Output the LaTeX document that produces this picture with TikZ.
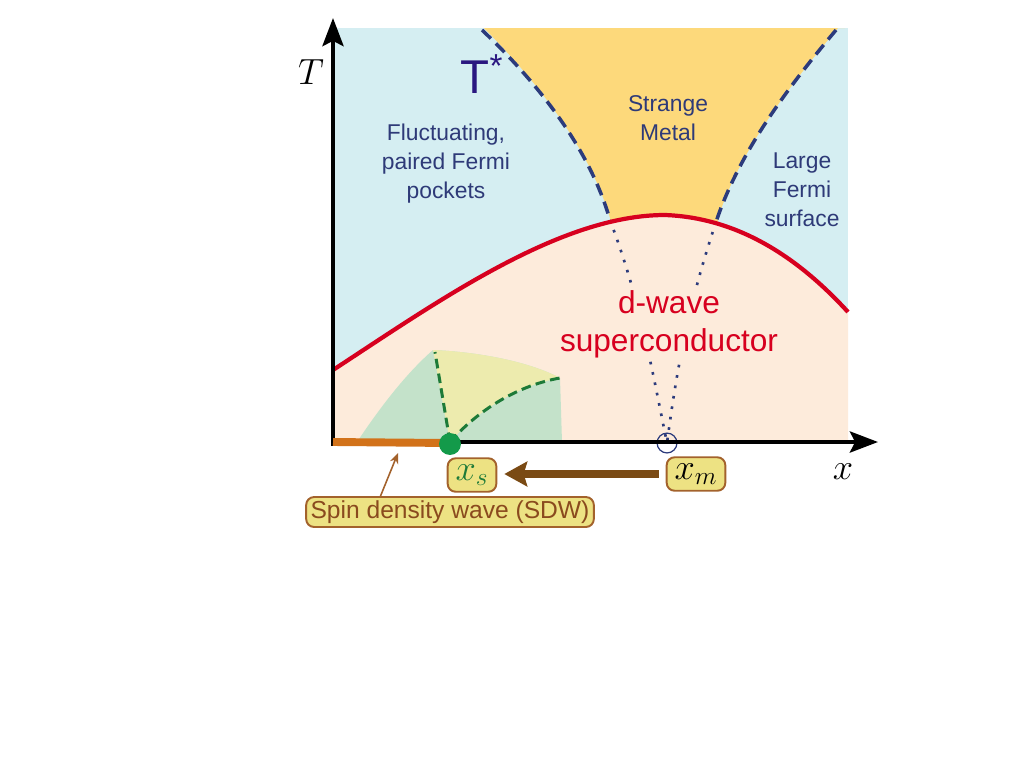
\documentclass[tikz,border=0pt]{standalone}
\usepackage{fontspec}
\setsansfont{Liberation Sans}
\usetikzlibrary{arrows.meta,calc}

\definecolor{BgBlue}{HTML}{D5EEF2}
\definecolor{PeachBg}{HTML}{FDEBDB}
\definecolor{StrangeYellow}{HTML}{FDD97B}
\definecolor{NavyLine}{HTML}{2C3B7C}
\definecolor{TextNavy}{HTML}{2E3A78}
\definecolor{TStarColor}{HTML}{2A1780}
\definecolor{RedLine}{HTML}{D7001F}
\definecolor{SdwGreen}{HTML}{C4E2CA}
\definecolor{WedgeYellow}{HTML}{EDEBAE}
\definecolor{GreenDash}{HTML}{1D7A38}
\definecolor{DotGreen}{HTML}{139A4A}
\definecolor{BarOrange}{HTML}{D2721A}
\definecolor{BoxFill}{HTML}{EDE283}
\definecolor{BoxDraw}{HTML}{A3622C}
\definecolor{BrownText}{HTML}{8A4A1E}
\definecolor{ArrowBrown}{HTML}{7A4A14}

\begin{document}
\begin{tikzpicture}[
        %Environment config: one unit is one pixel
        x=0.02cm, y=-0.02cm,
        font=\sffamily,
        %Environment styles
        PhaseText/.style={
            text=TextNavy,
            align=center,
            font=\sffamily\fontsize{13}{16.5}\selectfont
        },
        MathLabel/.style={font=\fontsize{20}{24}\selectfont},
        LabelBox/.style={
            draw=BoxDraw, fill=BoxFill,
            line width=1.1pt,
            rounded corners=4.5pt
        },
        AxisArrow/.style={line width=2.3pt, -{Stealth[length=16pt,width=12pt,inset=3pt]}},
        Crossover/.style={NavyLine, line width=2pt, dash pattern=on 7pt off 4pt},
        Dotted/.style={NavyLine, line width=1.5pt, dash pattern=on 1.5pt off 4.5pt},
        GreenDashed/.style={GreenDash, line width=1.7pt, dash pattern=on 5.5pt off 3pt}
    ]
    \useasboundingbox (0,0) rectangle (1024,768);

    %Phase regions
    \fill[BgBlue] (333,28) rectangle (848,442);
    \fill[StrangeYellow] (484,28) .. controls (540,85) and (590,150) .. (610,218)
        -- (610,260) -- (718,260) -- (718,218)
        .. controls (740,150) and (790,85) .. (838,28) -- (845,28) -- cycle;
    \fill[PeachBg] (333,370) .. controls (440,300) and (560,215) .. (665,215)
        .. controls (745,218) and (805,265) .. (848,312) -- (848,442) -- (333,442) -- cycle;
    \fill[SdwGreen] (357,442) .. controls (385,400) and (410,370) .. (433,350)
        .. controls (480,352) and (530,362) .. (560,378) -- (562,442) -- cycle;
    \fill[WedgeYellow] (450,442) -- (433,350)
        .. controls (480,352) and (530,362) .. (560,378)
        .. controls (520,385) and (480,408) .. (450,442) -- cycle;

    \path
        (333,442) coordinate (Origin)
        (610,220) coordinate (LeftFoot)
        (716,222) coordinate (RightFoot)
        (398,453) coordinate (SdwTip)
        (667,443) node[circle, draw=NavyLine, line width=0.7pt, minimum size=11.3pt, inner sep=0pt](XmRing){}
        (311,72) node[MathLabel](TLab){$T$}
        (843,472) node[MathLabel](XLab){$x$}
        (482,74) node[text=TStarColor, font=\sffamily\fontsize{27}{30}\selectfont](TStar){T\textsuperscript{*}}
        (446,164) node[PhaseText](Pockets){Fluctuating,\\paired Fermi\\pockets}
        (668,118) node[PhaseText](Metal){Strange\\Metal}
        (802,190) node[PhaseText](LargeFS){Large\\Fermi\\surface};

    %Crossover lines
    \draw[Dotted] (LeftFoot) .. controls (640,300) and (650,360) .. (XmRing.center);
    \draw[Dotted] (RightFoot) .. controls (690,300) and (678,360) .. (XmRing.center);
    \draw[Crossover] (482,30) .. controls (540,85) and (590,150) .. (LeftFoot);
    \draw[Crossover] (836,30) .. controls (790,85) and (740,150) .. (RightFoot);
    \draw[RedLine, line width=2.4pt] (333,370) .. controls (440,300) and (560,215) .. (665,215)
        .. controls (745,218) and (805,265) .. (848,312);
    \draw[GreenDashed] (450,442) -- (435,352);
    \draw[GreenDashed] (450,442) .. controls (480,408) and (520,385) .. (560,378);

    \path (669,324) node[text=RedLine, fill=PeachBg, inner sep=1pt, align=center,
        font=\sffamily\fontsize{18}{21.5}\selectfont](DWave){d-wave\\superconductor};

    %Axes
    \draw[AxisArrow] (333,446) -- (333,18);
    \draw[AxisArrow] (331,442) -- (878,442);
    \draw[BarOrange, line width=4.5pt] (Origin) -- (450,443);
    \path
        (450,444) node[circle, fill=DotGreen, minimum size=12.5pt, inner sep=0pt](XsDot){}
        (472,475) node[LabelBox, MathLabel, text=GreenDash, inner xsep=4.5pt, inner ysep=3.5pt](Xs){$x_s$}
        (696,474) node[LabelBox, MathLabel, inner xsep=4.5pt, inner ysep=3.5pt](Xm){$x_m$}
        (450,512) node[LabelBox, text=BrownText, inner xsep=2.5pt, inner ysep=2pt,
            font=\sffamily\fontsize{14}{16}\selectfont](Sdw){Spin density wave (SDW)};

    \draw[ArrowBrown, line width=4.5pt, -{Stealth[length=13pt,width=14pt,inset=2pt]},
        shorten <=4pt, shorten >=4pt] (Xm.west) -- (Xm.west -| Xs.east);
    \draw[BoxDraw, line width=0.9pt, -{Stealth[length=6pt,width=5pt]}]
        ($(Sdw.north west)!0.26!(Sdw.north east)$) -- (SdwTip);
\end{tikzpicture}
\end{document}
